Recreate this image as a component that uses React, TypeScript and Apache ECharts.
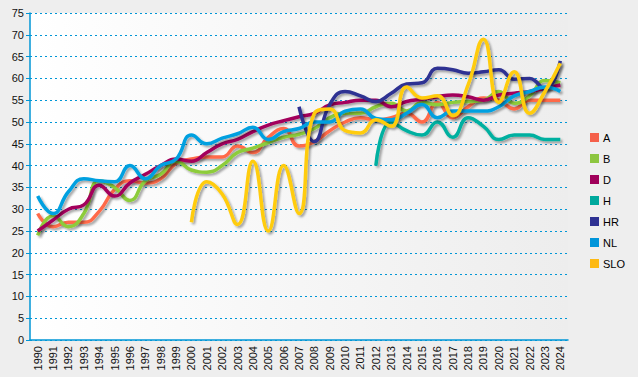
import React, { useEffect, useRef } from "react";
import * as echarts from "echarts";

const years = [
  "1990","1991","1992","1993","1994","1995","1996","1997","1998","1999",
  "2000","2001","2002","2003","2004","2005","2006","2007","2008","2009",
  "2010","2011","2012","2013","2014","2015","2016","2017","2018","2019",
  "2020","2021","2022","2023","2024",
];

const seriesNames = ["A", "B", "D", "H", "HR", "NL", "SLO"];

const valuesA = [29, 26, 27, 27, 29.5, 34.5, 36.5, 36, 37, 40.5, 41.5, 42, 42, 44.5, 43, 46.5, 48.5, 44.5, 45.5, 48, 50, 51, 50.5, 51, 52, 50, 54.5, 51, 53.5, 55.5, 55, 53, 55, 55, 55];
const valuesB = [24, 28.5, 26, 29, 36.5, 35, 32, 36.5, 38, 41, 39, 38.5, 40, 43, 44, 45.3, 46.5, 47.2, 48.5, 51, 52, 52, 53.5, 54.3, 52.5, 54.5, 54, 54.5, 54.7, 55, 57, 54.3, 56, 59.5, 59];
const valuesD = [25, 27.5, 30, 31, 35.5, 33, 36, 38, 40, 41.5, 41, 43, 45, 46, 47.8, 49.3, 50.3, 51.2, 52, 53.9, 54.5, 55, 55, 53.5, 54.7, 55.2, 55.8, 56.2, 55.8, 55, 56.2, 56.6, 57, 57.7, 58.5];
const valuesH = [null, null, null, null, null, null, null, null, null, null, null, null, null, null, null, null, null, null, null, null, null, null, 40, 50, 48, 47, 50, 46.5, 51, 49, 46, 47, 47, 46, 46];
const valuesHR = [null, null, null, null, null, null, null, null, null, null, null, null, null, null, null, null, null, 53.5, 45.5, 54, 57, 56, 54.7, 56.6, 58.7, 59, 62.3, 62, 61.2, 61.5, 62, 59.8, 60, 57.5, 64];
const valuesNL = [33, 29, 34, 37, 36.5, 36.3, 40, 37, 40, 41.5, 47, 45, 46.3, 47.3, 48.8, 46, 47.8, 48.5, 50, 50, 52.5, 53, 50.8, 50.5, 52, 54, 51, 52.5, 52.5, 52.5, 53.5, 56, 57, 58, 57];
const valuesSLO = [null, null, null, null, null, null, null, null, null, null, 27, 36.3, 33.5, 26.5, 41, 25, 40, 29, 52, 53, 48, 47.5, 50.5, 49, 58, 55.5, 56, 51.5, 58.5, 69, 54.5, 61.5, 52, 57, 63.5];

const allValues = [valuesA, valuesB, valuesD, valuesH, valuesHR, valuesNL, valuesSLO];
const lineColors = ["#ff6a4a", "#8dcc3a", "#a3005c", "#00b0a0", "#2e3192", "#00a0e0", "#ffcc10"];
const legendColors = ["#f5604a", "#8dc63f", "#a0005a", "#00a99d", "#2e3192", "#0095da", "#fdb913"];

export default function App() {
  const ref = useRef<HTMLDivElement>(null);
  useEffect(() => {
    document.body.style.margin = "0";
    document.body.style.background = "#eeeeee";
    const chart = echarts.init(ref.current!, null, { renderer: "svg" });
    chart.setOption({
      animation: false,
      backgroundColor: "#eeeeee",
      grid: {
        left: 30,
        right: 70,
        top: 13,
        bottom: 37,
        show: true,
        borderWidth: 0,
        backgroundColor: new echarts.graphic.LinearGradient(0, 0, 1, 0, [
          { offset: 0, color: "#ffffff" },
          { offset: 1, color: "#ededed" },
        ]),
      },
      legend: {
        orient: "vertical",
        left: 585,
        top: 127,
        itemWidth: 9,
        itemHeight: 9,
        itemGap: 10,
        icon: "rect",
        textStyle: { fontFamily: "Liberation Sans, Arial", fontSize: 11, color: "#000", padding: [0, 0, 0, -1] },
        data: seriesNames.map((n, i) => ({ name: n, itemStyle: { color: legendColors[i] } })),
      },
      xAxis: {
        type: "category",
        data: years,
        boundaryGap: true,
        axisLine: { lineStyle: { color: "#0096d6", width: 1.5 } },
        axisTick: { alignWithLabel: true, length: 5, lineStyle: { color: "#0096d6" } },
        axisLabel: {
          rotate: 90,
          interval: 0,
          margin: 6,
          fontFamily: "Liberation Sans, Arial",
          fontSize: 11,
          color: "#111",
        },
        splitLine: { show: false },
      },
      yAxis: {
        type: "value",
        min: 0,
        max: 75,
        interval: 5,
        axisLine: { show: true, lineStyle: { color: "#0096d6", width: 1.5 } },
        axisTick: { show: true, length: 4, lineStyle: { color: "#0096d6" } },
        axisLabel: { fontFamily: "Liberation Sans, Arial", fontSize: 11, color: "#111", margin: 6 },
        splitLine: { lineStyle: { color: "#0096d6", type: [2, 3], width: 1 } },
      },
      series: seriesNames.map((n, i) => ({
        name: n,
        type: "line",
        data: allValues[i],
        smooth: 0.5,
        showSymbol: false,
        symbol: "none",
        itemStyle: { color: legendColors[i] },
        lineStyle: {
          color: lineColors[i],
          width: 3.5,
          shadowColor: "rgba(0,0,0,0.35)",
          shadowBlur: 2,
          shadowOffsetX: 2,
          shadowOffsetY: 2,
        },
      })),
    });
    return () => chart.dispose();
  }, []);
  return (
    <div
      ref={ref}
      style={{ position: "absolute", left: 0, top: 0, width: 638, height: 377 }}
    />
  );
}
